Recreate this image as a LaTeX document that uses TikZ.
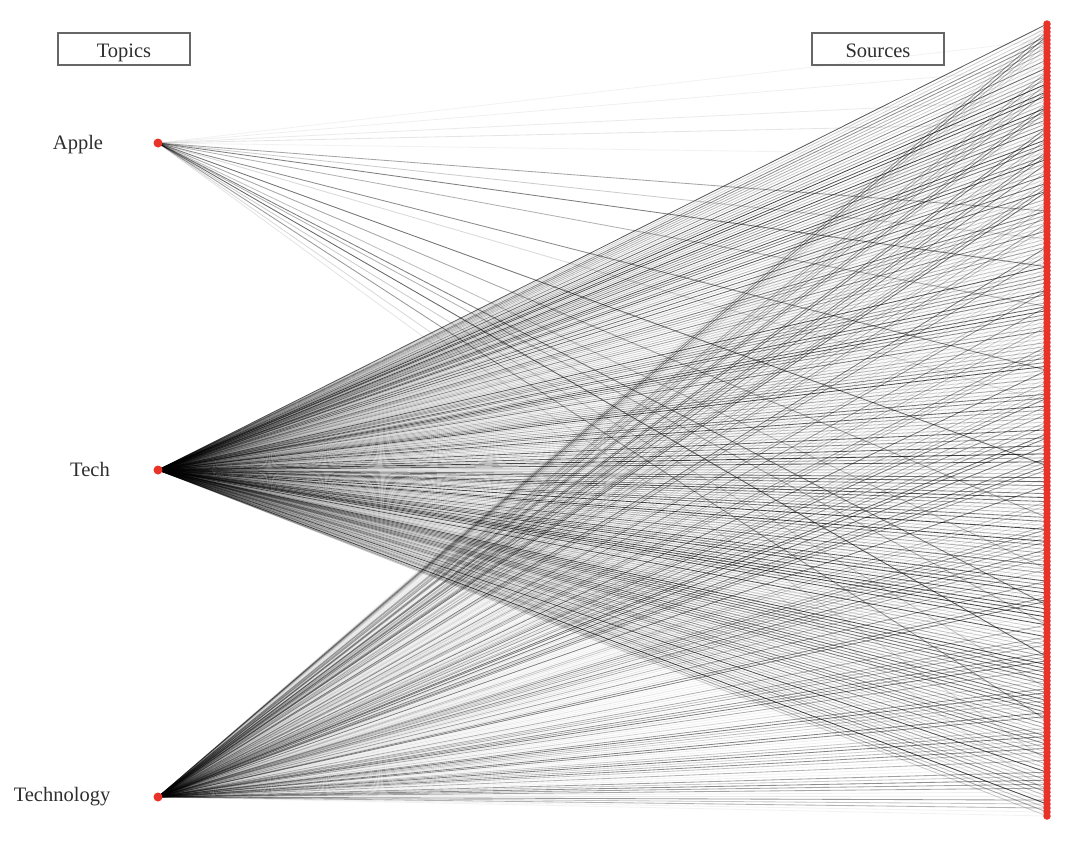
\documentclass[tikz,border=0pt]{standalone}
\usepackage{fontspec}
\setmainfont{Liberation Serif}
\definecolor{dotred}{RGB}{232,52,40}
\pgfdeclarelayer{bg}
\pgfsetlayers{bg,main}
\begin{document}
\begin{tikzpicture}[x=1pt,y=-1pt,font=\fontsize{20.5}{24}\selectfont,
  src/.style={circle,fill=dotred,draw=none,inner sep=0pt,minimum size=7.5pt},
  topic/.style={circle,fill=dotred,draw=none,inner sep=0pt,minimum size=9pt},
  lbl/.style={text=black!82,inner sep=0pt},
  hdr/.style={draw=black!60,line width=1.1pt,text=black!82,minimum width=132pt,minimum height=32pt,inner sep=0pt,text height=16pt,text depth=0pt},
  edge/.style={line width=0.85pt,draw=black}]
\useasboundingbox (0,0) rectangle (1080,852);
\node[hdr] (topics) at (124,49) {Topics};
\node[hdr] (sources) at (878,49) {Sources};
\node[topic] (apple) at (158,143) {};
\node[topic] (tech) at (158,470) {};
\node[topic] (technology) at (158,797) {};
\node[lbl] (lapple) at (78,145) {Apple};
\node[lbl] (ltech) at (90,469) {Tech};
\node[lbl] (ltechnology) at (62,797) {Technology};
\foreach \i in {1,...,200}{
  \pgfmathsetmacro\yy{24+(\i-1)*3.98}
  \node[src] (s\i) at (1047,\yy) {};
}
\pgfmathsetseed{7}
\begin{pgfonlayer}{bg}
\foreach \i in {1,...,200}{
  \pgfmathsetmacro\ra{rnd}
  \pgfmathsetmacro\oa{0.15+0.6*\ra^1.5}
  \draw[edge,draw opacity=\oa] (tech.center) -- (s\i.center);
  \pgfmathsetmacro\rb{rnd}
  \pgfmathsetmacro\ob{0.05+0.5*\rb^2.5}
  \draw[edge,draw opacity=\ob] (technology.center) -- (s\i.center);
}
\foreach \i/\o in {5/0.05,12/0.06,20/0.08,26/0.1,34/0.05,48/0.35,55/0.2,62/0.5,72/0.3,88/0.45,96/0.15,112/0.55,125/0.35,138/0.25,147/0.5,152/0.3,160/0.6,168/0.2,176/0.4,186/0.15,194/0.1}{
  \draw[edge,draw opacity=\o] (apple.center) -- (s\i.center);
}
\end{pgfonlayer}
\end{tikzpicture}
\end{document}
